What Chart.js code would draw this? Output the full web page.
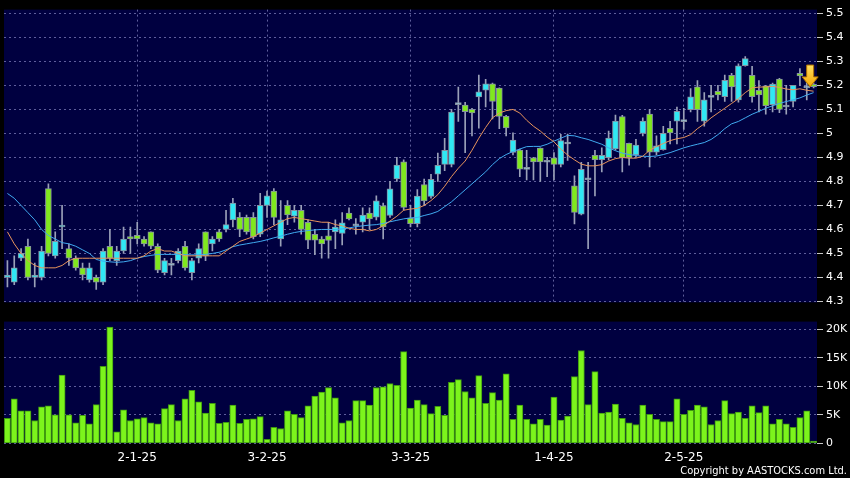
<!DOCTYPE html>
<html>
<head>
<meta charset="utf-8">
<script src="https://cdn.jsdelivr.net/npm/chart.js@4.4.1/dist/chart.umd.min.js"></script>
<style>
  html, body { margin: 0; padding: 0; background: #000; }
  #wrap { position: relative; width: 850px; height: 478px; background: #000; overflow: hidden; }
  #price { position: absolute; left: 0; top: 0; }
  #volume { position: absolute; left: 0; top: 312px; }
  #copy { position: absolute; right: 3px; top: 464px; font: 11px "DejaVu Sans Condensed", "DejaVu Sans", sans-serif; color: #fff; }
</style>
</head>
<body>
<div id="wrap">
  <canvas id="price" width="850" height="312"></canvas>
  <canvas id="volume" width="850" height="166"></canvas>
  <div id="copy">Copyright by AASTOCKS.com Ltd.</div>
</div>
<script>
// daily candles, Dec 2024 - Jun 2025
const opens = [4.40, 4.38, 4.48, 4.53, 4.40, 4.40, 4.77, 4.49, 4.61, 4.52,
  4.48, 4.44, 4.39, 4.40, 4.38, 4.53, 4.47, 4.51, 4.57, 4.575,
  4.56, 4.59, 4.53, 4.42, 4.45, 4.47, 4.53, 4.42, 4.48, 4.59,
  4.54, 4.59, 4.60, 4.64, 4.65, 4.65, 4.65, 4.58, 4.70, 4.76,
  4.56, 4.70, 4.655, 4.68, 4.63, 4.58, 4.56, 4.573, 4.59, 4.583,
  4.668, 4.615, 4.63, 4.668, 4.651, 4.698, 4.658, 4.81, 4.882, 4.647,
  4.624, 4.787, 4.738, 4.83, 4.871, 4.871, 5.12, 5.118, 5.10, 5.152,
  5.18, 5.207, 5.189, 5.071, 4.921, 4.931, 4.85, 4.898, 4.939, 4.88,
  4.898, 4.871, 4.956, 4.782, 4.664, 4.807, 4.909, 4.891, 4.899, 4.936,
  5.07, 4.959, 4.91, 5.0, 5.081, 4.922, 4.932, 5.021, 5.051, 5.049,
  5.099, 5.194, 5.051, 5.15, 5.175, 5.153, 5.242, 5.14, 5.282, 5.242,
  5.18, 5.198, 5.12, 5.227, 5.11, 5.133, 5.25, 5.19, 5.205];
const highs = [4.47, 4.49, 4.52, 4.56, 4.46, 4.53, 4.79, 4.59, 4.70, 4.54,
  4.49, 4.46, 4.46, 4.41, 4.52, 4.60, 4.53, 4.61, 4.61, 4.63,
  4.57, 4.59, 4.54, 4.48, 4.48, 4.52, 4.55, 4.48, 4.54, 4.59,
  4.57, 4.60, 4.68, 4.73, 4.67, 4.66, 4.67, 4.75, 4.76, 4.77,
  4.72, 4.72, 4.70, 4.70, 4.64, 4.60, 4.57, 4.63, 4.64, 4.67,
  4.69, 4.645, 4.69, 4.69, 4.74, 4.71, 4.80, 4.90, 4.89, 4.70,
  4.766, 4.81, 4.83, 4.918, 4.98, 5.10, 5.193, 5.13, 5.105, 5.243,
  5.225, 5.21, 5.19, 5.075, 5.003, 4.935, 4.93, 4.90, 4.94, 4.90,
  4.92, 4.996, 4.997, 4.823, 4.88, 4.88, 4.93, 4.94, 5.01, 5.076,
  5.075, 4.96, 4.975, 5.065, 5.10, 4.99, 5.03, 5.05, 5.11, 5.105,
  5.187, 5.22, 5.17, 5.20, 5.20, 5.243, 5.25, 5.29, 5.32, 5.28,
  5.22, 5.20, 5.21, 5.23, 5.20, 5.20, 5.27, 5.22, 5.21];
const lows = [4.36, 4.37, 4.47, 4.39, 4.36, 4.39, 4.49, 4.48, 4.52, 4.45,
  4.43, 4.39, 4.38, 4.35, 4.37, 4.47, 4.45, 4.50, 4.50, 4.54,
  4.53, 4.52, 4.42, 4.41, 4.41, 4.46, 4.43, 4.39, 4.46, 4.47,
  4.51, 4.55, 4.59, 4.61, 4.57, 4.58, 4.56, 4.57, 4.65, 4.62,
  4.53, 4.62, 4.63, 4.58, 4.52, 4.495, 4.48, 4.48, 4.52, 4.535,
  4.64, 4.58, 4.59, 4.60, 4.64, 4.56, 4.65, 4.80, 4.68, 4.61,
  4.61, 4.70, 4.73, 4.80, 4.845, 4.86, 5.05, 4.92, 4.99, 5.022,
  5.11, 5.06, 5.02, 4.99, 4.91, 4.82, 4.806, 4.806, 4.80, 4.82,
  4.806, 4.86, 4.888, 4.623, 4.66, 4.52, 4.74, 4.84, 4.89, 4.93,
  4.84, 4.868, 4.90, 4.99, 4.86, 4.91, 4.93, 4.956, 4.956, 5.017,
  5.09, 5.05, 5.03, 5.09, 5.14, 5.133, 5.133, 5.13, 5.28, 5.13,
  5.09, 5.08, 5.09, 5.087, 5.08, 5.11, 5.20, 5.14, 5.19];
const closes = [4.41, 4.44, 4.50, 4.40, 4.41, 4.51, 4.50, 4.55, 4.612, 4.48,
  4.44, 4.41, 4.44, 4.38, 4.51, 4.48, 4.51, 4.56, 4.56, 4.56,
  4.54, 4.53, 4.43, 4.47, 4.45, 4.51, 4.44, 4.47, 4.52, 4.49,
  4.56, 4.56, 4.62, 4.71, 4.60, 4.59, 4.57, 4.70, 4.74, 4.65,
  4.64, 4.66, 4.68, 4.60, 4.555, 4.555, 4.54, 4.554, 4.61, 4.628,
  4.644, 4.615, 4.66, 4.644, 4.719, 4.61, 4.769, 4.868, 4.692, 4.624,
  4.739, 4.719, 4.809, 4.867, 4.93, 5.089, 5.12, 5.091, 5.085, 5.173,
  5.207, 5.133, 5.071, 5.023, 4.972, 4.851, 4.85, 4.881, 4.881, 4.88,
  4.871, 4.97, 4.956, 4.671, 4.85, 4.807, 4.891, 4.909, 4.981, 5.051,
  4.899, 4.899, 4.951, 5.051, 4.922, 4.948, 5.0, 5.002, 5.092, 5.049,
  5.153, 5.099, 5.14, 5.15, 5.16, 5.221, 5.194, 5.282, 5.312, 5.153,
  5.16, 5.116, 5.206, 5.10, 5.11, 5.20, 5.24, 5.19, 5.195];

// moving averages as drawn (orange short, blue long)
const maShort = [4.59, 4.54, 4.50, 4.47, 4.45, 4.44, 4.44, 4.44, 4.45, 4.47,
  4.48, 4.48, 4.48, 4.48, 4.48, 4.48, 4.48, 4.48, 4.48, 4.48,
  4.49, 4.51, 4.52, 4.51, 4.51, 4.50, 4.49, 4.49, 4.49, 4.49,
  4.49, 4.49, 4.51, 4.53, 4.55, 4.56, 4.57, 4.585, 4.60, 4.615,
  4.63, 4.645, 4.65, 4.645, 4.64, 4.635, 4.63, 4.63, 4.62, 4.615,
  4.605, 4.60, 4.60, 4.594, 4.60, 4.615, 4.635, 4.655, 4.68, 4.685,
  4.688, 4.70, 4.72, 4.745, 4.78, 4.82, 4.855, 4.885, 4.93, 4.98,
  5.025, 5.065, 5.085, 5.095, 5.10, 5.085, 5.055, 5.03, 5.01, 4.985,
  4.965, 4.935, 4.91, 4.89, 4.872, 4.865, 4.865, 4.87, 4.885, 4.895,
  4.90, 4.897, 4.897, 4.905, 4.93, 4.945, 4.958, 4.97, 4.978, 4.983,
  4.995, 5.02, 5.04, 5.065, 5.085, 5.105, 5.125, 5.145, 5.17, 5.19,
  5.193, 5.194, 5.196, 5.192, 5.185, 5.182, 5.186, 5.18, 5.176];
const maLong = [4.75, 4.73, 4.70, 4.67, 4.64, 4.60, 4.575, 4.56, 4.545, 4.54,
  4.53, 4.515, 4.50, 4.475, 4.468, 4.465, 4.463, 4.465, 4.47, 4.48,
  4.487, 4.492, 4.496, 4.496, 4.496, 4.496, 4.495, 4.494, 4.494, 4.496,
  4.50, 4.505, 4.515, 4.528, 4.535, 4.54, 4.545, 4.55, 4.557, 4.565,
  4.572, 4.58, 4.587, 4.592, 4.595, 4.598, 4.60, 4.60, 4.60, 4.602,
  4.606, 4.612, 4.615, 4.618, 4.62, 4.625, 4.632, 4.638, 4.644, 4.648,
  4.65, 4.658, 4.665, 4.675, 4.695, 4.715, 4.74, 4.765, 4.79, 4.815,
  4.84, 4.87, 4.895, 4.912, 4.925, 4.935, 4.945, 4.946, 4.946, 4.955,
  4.968, 4.98, 4.992, 4.99, 4.982, 4.975, 4.965, 4.955, 4.94, 4.928,
  4.918, 4.912, 4.908, 4.905, 4.904, 4.906, 4.912, 4.92, 4.93, 4.94,
  4.948, 4.955, 4.962, 4.975, 4.995, 5.02, 5.04, 5.05, 5.065, 5.08,
  5.092, 5.105, 5.115, 5.125, 5.133, 5.14, 5.148, 5.16, 5.17];

// volume in thousands
const volumeK = [4.4, 7.8, 5.7, 5.7, 4.0, 6.4, 6.6, 5.0, 12.0, 5.0,
  3.6, 4.9, 3.4, 6.8, 13.5, 20.4, 2.0, 5.9, 4.0, 4.3,
  4.5, 3.6, 3.4, 6.1, 6.8, 4.0, 7.8, 9.3, 7.3, 5.3,
  7.0, 3.5, 3.7, 6.7, 3.5, 4.2, 4.3, 4.7, 0.7, 2.8,
  2.6, 5.7, 5.1, 4.5, 6.6, 8.3, 9.0, 9.8, 8.0, 3.6,
  4.0, 7.5, 7.5, 6.7, 9.8, 9.9, 10.5, 10.2, 16.1, 6.2,
  7.6, 6.8, 5.2, 6.5, 4.9, 10.7, 11.2, 9.1, 8.0, 11.9,
  7.0, 8.9, 7.6, 12.2, 4.2, 6.7, 4.2, 3.4, 4.2, 3.2,
  8.1, 4.1, 4.8, 11.7, 16.3, 6.8, 12.6, 5.3, 5.5, 6.9,
  4.4, 3.6, 3.3, 6.7, 5.1, 4.2, 3.8, 3.8, 7.8, 5.1,
  5.8, 6.7, 6.4, 3.3, 4.0, 7.5, 5.2, 5.5, 4.4, 6.6,
  5.4, 6.6, 3.4, 4.2, 3.4, 2.8, 4.5, 5.7, 0.4];

// x axis: bar index of each month label
const tickIdx = [19, 38, 59, 80, 99];
const tickText = ['2-1-25', '3-2-25', '3-3-25', '1-4-25', '2-5-25'];
const priceTicks = [4.3, 4.4, 4.5, 4.6, 4.7, 4.8, 4.9, 5.0, 5.1, 5.2, 5.3, 5.4, 5.5];
const volTicks = [0, 5, 10, 15, 20];
const volTickText = ['0', '5K', '10K', '15K', '20K'];

// latest-price marker
const arrowAt = 117.5;
const arrowTop = 5.285;
const arrowTip = 5.194;

const days = opens.map((_, i) => i);
const bodies = opens.map((o, i) => [o, closes[i]]);
const wicks = lows.map((l, i) => [l, highs[i]]);
const bodyColors = closes.map((c, i) => c > opens[i] ? '#30e8f4' : (c < opens[i] ? '#80e81e' : '#a0c8d8'));

const gridColor = 'rgba(125,125,185,0.75)';
const font = { family: 'DejaVu Sans', size: 11 };

const panelBg = {
  id: 'panelBg',
  beforeDraw(chart) {
    const { ctx, chartArea: a } = chart;
    ctx.save();
    ctx.fillStyle = '#000040';
    ctx.fillRect(a.left, a.top, a.right - a.left, a.bottom - a.top);
    ctx.restore();
  }
};

const arrowMark = {
  id: 'arrowMark',
  afterDatasetsDraw(chart) {
    const { ctx, scales: { x, y } } = chart;
    const cx = x.getPixelForValue(arrowAt);
    const top = y.getPixelForValue(arrowTop);
    const tip = y.getPixelForValue(arrowTip);
    const neck = tip - 10;
    const g = ctx.createLinearGradient(0, top, 0, tip);
    g.addColorStop(0, '#ffe060');
    g.addColorStop(1, '#f4a400');
    ctx.save();
    ctx.fillStyle = g;
    ctx.strokeStyle = '#b07000';
    ctx.lineWidth = 1;
    ctx.beginPath();
    ctx.moveTo(cx - 3.5, top);
    ctx.lineTo(cx + 3.5, top);
    ctx.lineTo(cx + 3.5, neck);
    ctx.lineTo(cx + 8, neck);
    ctx.lineTo(cx, tip);
    ctx.lineTo(cx - 8, neck);
    ctx.lineTo(cx - 3.5, neck);
    ctx.closePath();
    ctx.fill();
    ctx.stroke();
    ctx.restore();
  }
};

const gridAtTicks = ctx => tickIdx.includes(ctx.index) ? gridColor : 'transparent';

new Chart(document.getElementById('price'), {
  type: 'bar',
  data: {
    labels: days,
    datasets: [
      { type: 'line', data: maShort, borderColor: '#e8945c', borderWidth: 1, pointRadius: 0, tension: 0, order: 1 },
      { type: 'line', data: maLong, borderColor: '#40aaf0', borderWidth: 1, pointRadius: 0, tension: 0, order: 1 },
      { data: bodies, backgroundColor: bodyColors, borderColor: '#8690a0', borderWidth: 1, borderSkipped: false,
        barThickness: 6, minBarLength: 2, grouped: false, order: 2 },
      { data: wicks, backgroundColor: '#9aa0b8', barThickness: 1, grouped: false, order: 3 }
    ]
  },
  options: {
    responsive: false,
    animation: false,
    events: [],
    layout: { padding: { left: 4, top: 6, right: 0, bottom: 7 } },
    plugins: { legend: { display: false }, tooltip: { enabled: false } },
    scales: {
      x: {
        offset: true,
        ticks: { display: false, autoSkip: false },
        grid: { offset: false, drawTicks: false, color: gridAtTicks },
        border: { display: false, dash: [2, 3] },
        afterFit: s => { s.height = 0; }
      },
      y: {
        position: 'right',
        min: 4.296,
        max: 5.516,
        afterBuildTicks: s => { s.ticks = priceTicks.map(v => ({ value: v })); },
        afterFit: s => { s.width = 33; },
        ticks: { color: '#fff', font, padding: 3, callback: v => String(Number(v.toFixed(1))) },
        grid: { color: gridColor, tickColor: '#c8c8c8', tickLength: 6, tickBorderDash: [] },
        border: { display: false, dash: [2, 3] }
      }
    }
  },
  plugins: [panelBg, arrowMark]
});

new Chart(document.getElementById('volume'), {
  type: 'bar',
  data: {
    labels: days,
    datasets: [
      { data: volumeK, backgroundColor: '#7cf41c', borderColor: '#3f9a10', borderWidth: 1,
        borderSkipped: false, barThickness: 6.2 }
    ]
  },
  options: {
    responsive: false,
    animation: false,
    events: [],
    layout: { padding: { left: 4, top: 7, right: 0, bottom: 0 } },
    plugins: { legend: { display: false }, tooltip: { enabled: false } },
    scales: {
      x: {
        offset: true,
        ticks: {
          autoSkip: false, maxRotation: 0, color: '#fff', font: { family: 'DejaVu Sans', size: 12 }, padding: 1,
          callback: (v, i) => { const k = tickIdx.indexOf(i); return k < 0 ? null : tickText[k]; }
        },
        grid: { offset: false, color: gridAtTicks, tickColor: ctx => tickIdx.includes(ctx.index) ? '#c8c8c8' : 'transparent',
          tickLength: 6, tickBorderDash: [] },
        border: { display: false, dash: [2, 3] },
        afterFit: s => { s.height = 34.7; }
      },
      y: {
        position: 'right',
        min: 0,
        max: 21.38,
        afterBuildTicks: s => { s.ticks = volTicks.map(v => ({ value: v })); },
        afterFit: s => { s.width = 33; },
        ticks: { color: '#fff', font, padding: 3, callback: v => volTickText[volTicks.indexOf(v)] },
        grid: { color: gridColor, tickColor: '#c8c8c8', tickLength: 6, tickBorderDash: [] },
        border: { display: false, dash: [2, 3] }
      }
    }
  },
  plugins: [panelBg]
});
</script>
</body>
</html>
